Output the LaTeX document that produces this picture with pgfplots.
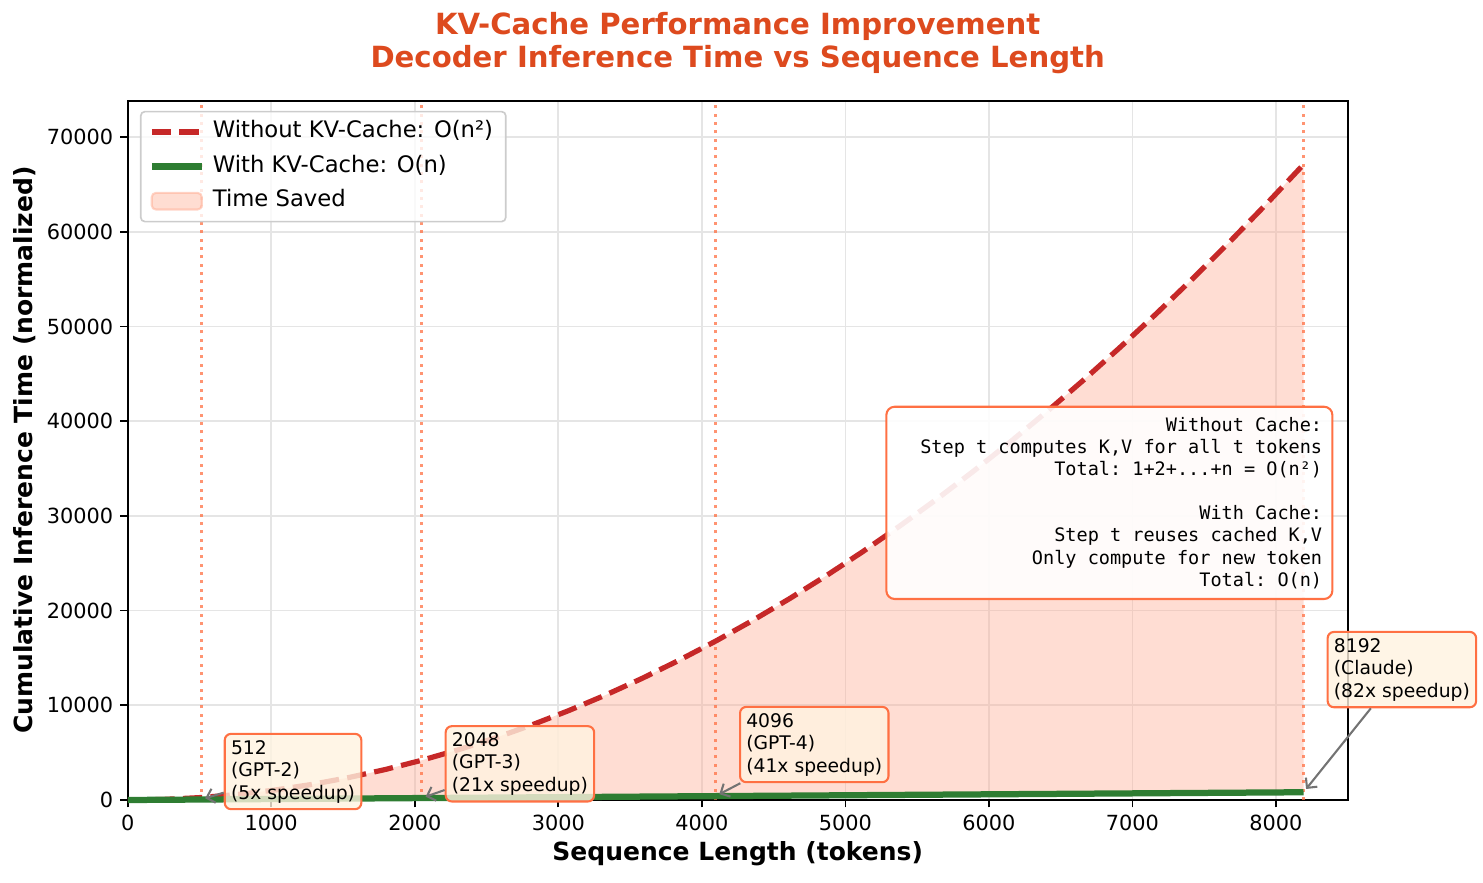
\documentclass[border=0pt]{standalone}
\usepackage{fontspec}
\setmainfont{DejaVu Sans}
\newfontfamily\monofont{DejaVu Sans Mono}
\usepackage{pgfplots}
\pgfplotsset{compat=1.18}
\usepackage{pgfplotstable}
\usepgfplotslibrary{fillbetween}
\usetikzlibrary{arrows.meta}

\definecolor{titlec}{HTML}{DD4A1E}
\definecolor{redc}{HTML}{C62828}
\definecolor{greenc}{HTML}{2E7D32}
\definecolor{savec}{HTML}{FFAB91}
\definecolor{edgec}{HTML}{FF7043}
\definecolor{notec}{HTML}{FFF3E0}

% monospaced note font; \ws is one full character cell of blank space
\newcommand\notefont{\monofont\fontsize{8.9}{10.65}\selectfont}
\newcommand\ws{\hspace{0.602em}}

% cumulative decoding cost (normalized): without cache vs with cache
\pgfplotstableread{
n     nocache     cache
1     0.001       0.1
256   65.536      25.6
512   262.144     51.2
768   589.824     76.8
1024  1048.576    102.4
1280  1638.4      128.0
1536  2359.296    153.6
1792  3211.264    179.2
2048  4194.304    204.8
2304  5308.416    230.4
2560  6553.6      256.0
2816  7929.856    281.6
3072  9437.184    307.2
3328  11075.584   332.8
3584  12845.056   358.4
3840  14745.6     384.0
4096  16777.216   409.6
4352  18939.904   435.2
4608  21233.664   460.8
4864  23658.496   486.4
5120  26214.4     512.0
5376  28901.376   537.6
5632  31719.424   563.2
5888  34668.544   588.8
6144  37748.736   614.4
6400  40960.0     640.0
6656  44302.336   665.6
6912  47775.744   691.2
7168  51380.224   716.8
7424  55115.776   742.4
7680  58982.4     768.0
7936  62980.096   793.6
8192  67108.864   819.2
}\kvdata

\pgfplotsset{
  lineleg/.style={legend image code/.code={\draw[##1] (0pt,0pt) -- (24pt,0pt);}},
  boxleg/.style={legend image code/.code={\draw[##1] (0pt,-4pt) rectangle (24pt,4pt);}},
  marker line/.style={edgec, opacity=0.75, line width=1.3pt, dash pattern=on 1.5pt off 2.5pt, forget plot},
}
\tikzset{
  milestone/.style={draw=edgec, line width=1pt, fill=notec, fill opacity=0.8,
    text opacity=1, rounded corners=3pt, inner xsep=3pt, inner ysep=3pt,
    align=left, anchor=west, font=\fontsize{9}{10.8}\selectfont},
  pointer/.style={draw=black!55, line width=1pt, shorten >=2pt,
    -{Straight Barb[length=3.5pt,width=7pt]}},
}

\begin{document}
\begin{tikzpicture}
\begin{axis}[
  at={(61.3pt,39.36pt)}, anchor=south west,
  scale only axis, width=585.6pt, height=335.52pt,
  xmin=0, xmax=8500, ymin=0, ymax=73820,
  xtick={0,1000,...,8000}, ytick={0,10000,...,70000},
  scaled ticks=false,
  /pgf/number format/1000 sep={},
  /pgf/number format/assume math mode=true,
  tick label style={font=\fontsize{10}{12}\selectfont},
  tick align=outside, tick pos=left, major tick length=3.5pt,
  tick style={black, line width=0.8pt},
  axis line style={black, line width=1pt},
  grid=major, major grid style={black!10, line width=0.8pt},
  clip=false,
  legend cell align=left,
  legend style={at={(0.01,0.986)}, anchor=north west,
    draw=black!20, line width=0.8pt, rounded corners=2pt,
    fill=white, fill opacity=0.8, text opacity=1,
    inner xsep=3.8pt, inner ysep=1.5pt, column sep=1.5pt,
    font=\fontsize{10.9}{13}\selectfont,
    nodes={inner xsep=2.3pt, inner ysep=3.05pt, text height=8pt, text depth=2.5pt}},
]
% legend entries
\addlegendimage{lineleg, redc, line width=2.5pt, dash pattern=on 9.25pt off 4pt}
\addlegendentry{Without KV-Cache: O(n²)}
\addlegendimage{lineleg, greenc, line width=3pt}
\addlegendentry{With KV-Cache: O(n)}
\addlegendimage{boxleg, fill=savec, fill opacity=0.4, draw=savec, draw opacity=0.5, line width=1pt}
\addlegendentry{Time Saved}

% boundaries of the saved-time region
\addplot[draw=none, name path=nc, forget plot] table[x=n, y=nocache] {\kvdata};
\addplot[draw=none, name path=wc, forget plot] table[x=n, y=cache] {\kvdata};
\addplot[fill=savec, fill opacity=0.4, draw=none, forget plot] fill between[of=nc and wc];

% context-length markers
\addplot[marker line] coordinates {(512,0) (512,73820)};
\addplot[marker line] coordinates {(2048,0) (2048,73820)};
\addplot[marker line] coordinates {(4096,0) (4096,73820)};
\addplot[marker line] coordinates {(8192,0) (8192,73820)};

% cost curves
\addplot[redc, line width=2.5pt, dash pattern=on 9.25pt off 4pt, line join=round, forget plot]
  table[x=n, y=nocache] {\kvdata};
\addplot[greenc, line width=3pt, line join=round, forget plot]
  table[x=n, y=cache] {\kvdata};

% milestone callouts
\node[milestone] (m1) at (axis cs:669,3008) {512\\(GPT-2)\\(5x speedup)};
\draw[pointer] (m1) -- (axis cs:512,51.2);
\node[milestone] (m2) at (axis cs:2208,3820) {2048\\(GPT-3)\\(21x speedup)};
\draw[pointer] (m2) -- (axis cs:2048,204.8);
\node[milestone] (m3) at (axis cs:4259,5857) {4096\\(GPT-4)\\(41x speedup)};
\draw[pointer] (m3) -- (axis cs:4096,409.6);
\node[milestone] (m4) at (axis cs:8353,13772) {8192\\(Claude)\\(82x speedup)};
\draw[pointer] (m4) -- (axis cs:8192,819.2);

% explanation box
\node[anchor=north east, draw=edgec, line width=1pt, fill=white, fill opacity=0.9,
  text opacity=1, rounded corners=4pt, inner sep=4.9pt, text width=204.3pt, align=right,
  font=\notefont]
  at (rel axis cs:0.9883,0.5641)
  {Without\ws Cache:\\
   Step\ws t\ws computes\ws K,V\ws for\ws all\ws t\ws tokens\\
   Total:\ws 1+2+...+n\ws =\ws O(n²)\\
   \mbox{}\\
   With\ws Cache:\\
   Step\ws t\ws reuses\ws cached\ws K,V\\
   Only\ws compute\ws for\ws new\ws token\\
   Total:\ws O(n)};
\end{axis}

\node[align=center, text=titlec, font=\bfseries\fontsize{14}{15.4}\selectfont]
  at (354.1pt,402.7pt) {KV-Cache Performance Improvement\\Decoder Inference Time vs Sequence Length};
\node[font=\bfseries\fontsize{12}{14}\selectfont] at (354.1pt,13.4pt) {Sequence Length (tokens)};
\node[font=\bfseries\fontsize{12}{14}\selectfont, rotate=90] at (12pt,207.4pt) {Cumulative Inference Time (normalized)};
\path (0,0) rectangle (711.84pt,423.36pt);
\end{tikzpicture}
\end{document}
